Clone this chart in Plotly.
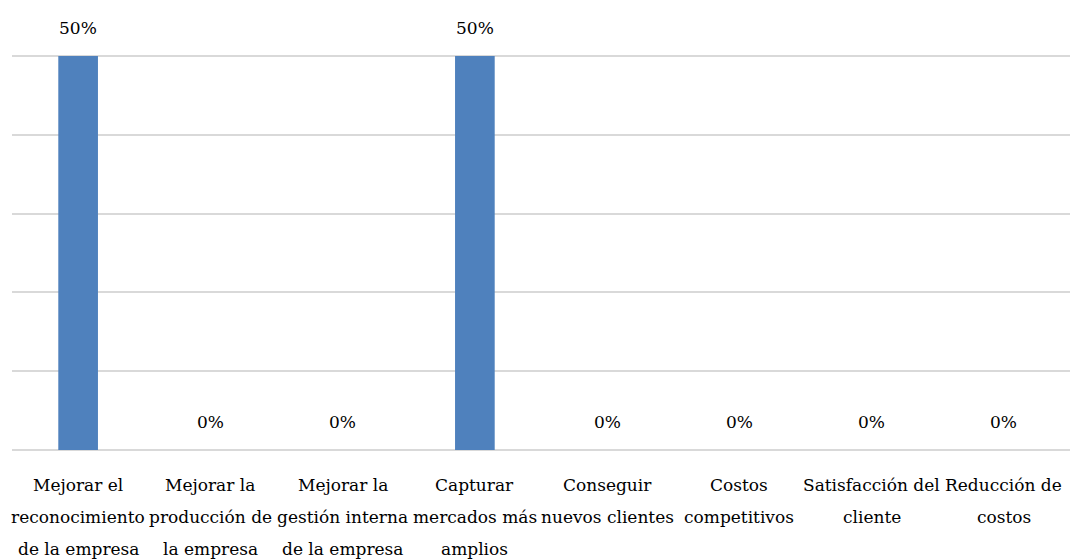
import plotly.graph_objects as go

categories = [
    "Mejorar el<br>reconocimiento<br>de la empresa",
    "Mejorar la<br>producción de<br>la empresa",
    "Mejorar la<br>gestión interna<br>de la empresa",
    "Capturar<br>mercados más<br>amplios",
    "Conseguir<br>nuevos clientes",
    "Costos<br>competitivos",
    "Satisfacción del<br>cliente",
    "Reducción de<br>costos",
]
values = [0.5, 0, 0, 0.5, 0, 0, 0, 0]
value_labels = ["50%", "0%", "0%", "50%", "0%", "0%", "0%", "0%"]

FONT = "DejaVu Serif"
fig = go.Figure()
fig.add_trace(go.Bar(
    x=list(range(len(categories))), y=values,
    marker=dict(color="#4F81BD", line=dict(width=0)),
    hoverinfo="skip",
))

annotations = []
for i, (v, lab) in enumerate(zip(values, value_labels)):
    annotations.append(dict(
        x=i, y=v, xref="x", yref="y", text=lab, showarrow=False,
        yanchor="bottom", yshift=16,
        font=dict(family=FONT, size=17, color="#000000"),
    ))
for i, cat in enumerate(categories):
    for j, line in enumerate(cat.split("<br>")):
        annotations.append(dict(
            x=i, y=0, xref="x", yref="paper", text=line, showarrow=False,
            yanchor="middle", yshift=-35 - 32 * j,
            font=dict(family=FONT, size=17, color="#000000"),
        ))

fig.update_layout(
    width=1070, height=560,
    margin=dict(l=12, r=0, t=52, b=110),
    paper_bgcolor="white", plot_bgcolor="white",
    bargap=0.7,
    showlegend=False,
    annotations=annotations,
    font=dict(family=FONT),
    xaxis=dict(range=[-0.5, len(categories) - 0.5], showticklabels=False,
               showgrid=False, zeroline=False, showline=False, ticks=""),
    yaxis=dict(range=[0, 0.505], dtick=0.1, showticklabels=False,
               showgrid=True, gridcolor="#D9D9D9", gridwidth=2,
               zeroline=True, zerolinecolor="#D9D9D9", zerolinewidth=2,
               showline=False, ticks=""),
)
fig.write_html("out.html")
